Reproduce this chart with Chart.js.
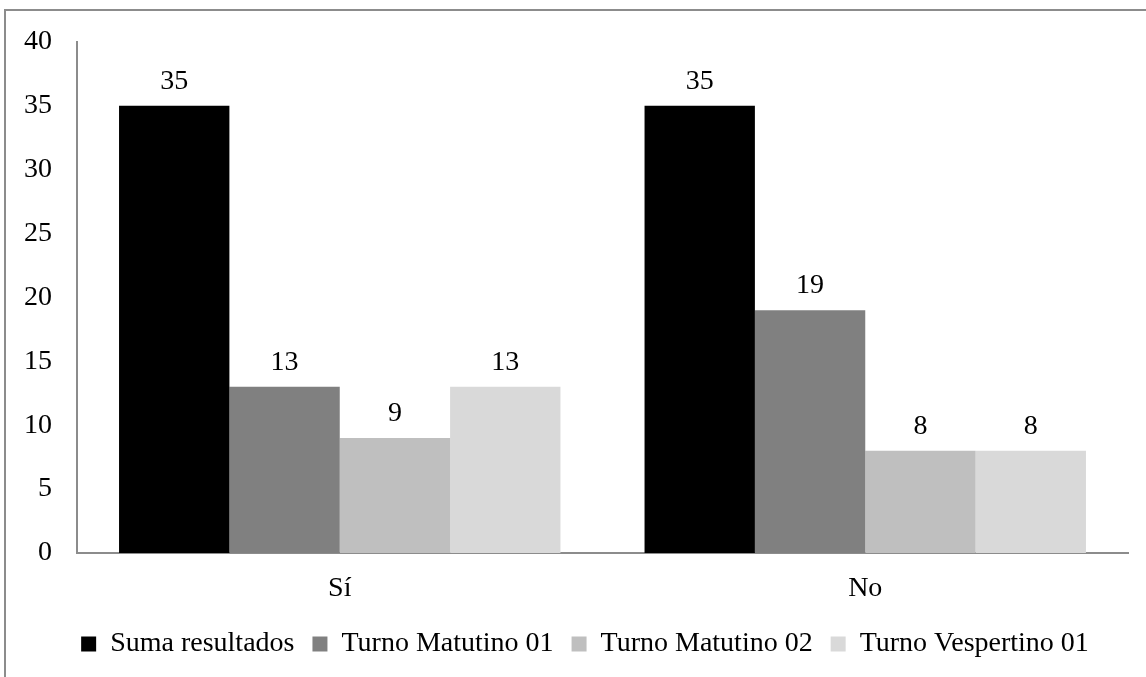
<!DOCTYPE html>
<html>
<head>
<meta charset="utf-8">
<script src="https://cdn.jsdelivr.net/npm/chart.js@4/dist/chart.umd.min.js"></script>
<style>
  html, body { margin: 0; padding: 0; background: #ffffff; }
  #wrap { position: relative; width: 1146px; height: 677px; }
</style>
</head>
<body>
<div id="wrap"><canvas id="chart" width="1146" height="677"></canvas></div>
<script>
// Categories and series
const categories = ['Sí', 'No'];
const seriesNames = ['Suma resultados', 'Turno Matutino 01', 'Turno Matutino 02', 'Turno Vespertino 01'];
const sumaResultados = [35, 35];
const turnoMatutino01 = [13, 19];
const turnoMatutino02 = [9, 8];
const turnoVespertino01 = [13, 8];
const yTicks = [0, 5, 10, 15, 20, 25, 30, 35, 40];

const seriesValues = [sumaResultados, turnoMatutino01, turnoMatutino02, turnoVespertino01];
const seriesColors = ['#000000', '#808080', '#bfbfbf', '#d9d9d9'];

const FONT = "'Liberation Serif', 'DejaVu Serif', serif";
const FONT_SIZE = 28;
const AXIS_COLOR = '#8c8c8c';
const LEGEND_SHIFT = 21;

// Frame lines along the top and left edge
const framePlugin = {
  id: 'frame',
  beforeDraw(chart) {
    const ctx = chart.ctx;
    ctx.save();
    ctx.fillStyle = '#ffffff';
    ctx.fillRect(0, 0, chart.width, chart.height);
    ctx.strokeStyle = AXIS_COLOR;
    ctx.lineWidth = 2;
    ctx.beginPath();
    ctx.moveTo(5, chart.height);
    ctx.lineTo(5, 10);
    ctx.lineTo(chart.width, 10);
    ctx.stroke();
    ctx.restore();
    // centre the legend row under the full frame rather than the padded box
    if (chart.legend && !chart.legend._shifted) {
      chart.legend.left += LEGEND_SHIFT;
      chart.legend.right += LEGEND_SHIFT;
      chart.legend._shifted = true;
    }
  }
};

// Value labels above each bar
const valueLabels = {
  id: 'valueLabels',
  afterDatasetsDraw(chart) {
    const ctx = chart.ctx;
    ctx.save();
    ctx.font = FONT_SIZE + 'px ' + FONT;
    ctx.fillStyle = '#000000';
    ctx.textAlign = 'center';
    ctx.textBaseline = 'alphabetic';
    chart.data.datasets.forEach((ds, i) => {
      const meta = chart.getDatasetMeta(i);
      meta.data.forEach((bar, j) => {
        ctx.fillText(String(ds.data[j]), bar.x, bar.y - 17);
      });
    });
    ctx.restore();
  }
};

new Chart(document.getElementById('chart'), {
  type: 'bar',
  data: {
    labels: categories,
    datasets: seriesNames.map((name, i) => ({
      label: name,
      data: seriesValues[i],
      backgroundColor: seriesColors[i],
      borderWidth: 0,
      categoryPercentage: 0.84,
      barPercentage: 1.0
    }))
  },
  options: {
    responsive: false,
    animation: false,
    devicePixelRatio: 1,
    layout: { padding: { left: 0, right: 18, top: 40, bottom: 9 } },
    plugins: {
      legend: {
        position: 'bottom',
        labels: {
          font: { family: FONT, size: FONT_SIZE },
          color: '#000000',
          boxWidth: 15,
          boxHeight: 15,
          padding: 18
        }
      },
      tooltip: { enabled: false }
    },
    scales: {
      x: {
        grid: { display: false, drawTicks: false },
        border: { display: true, color: AXIS_COLOR, width: 2 },
        ticks: { font: { family: FONT, size: FONT_SIZE }, color: '#000000', padding: 19 },
        afterFit(scale) { scale.height = 59; }
      },
      y: {
        min: 0,
        max: 40,
        grid: { display: false, drawTicks: false },
        border: { display: true, color: AXIS_COLOR, width: 2 },
        afterBuildTicks(scale) { scale.ticks = yTicks.map(v => ({ value: v })); },
        ticks: { font: { family: FONT, size: FONT_SIZE }, color: '#000000', padding: 25 },
        afterFit(scale) { scale.width = 77; }
      }
    }
  },
  plugins: [framePlugin, valueLabels]
});
</script>
</body>
</html>
